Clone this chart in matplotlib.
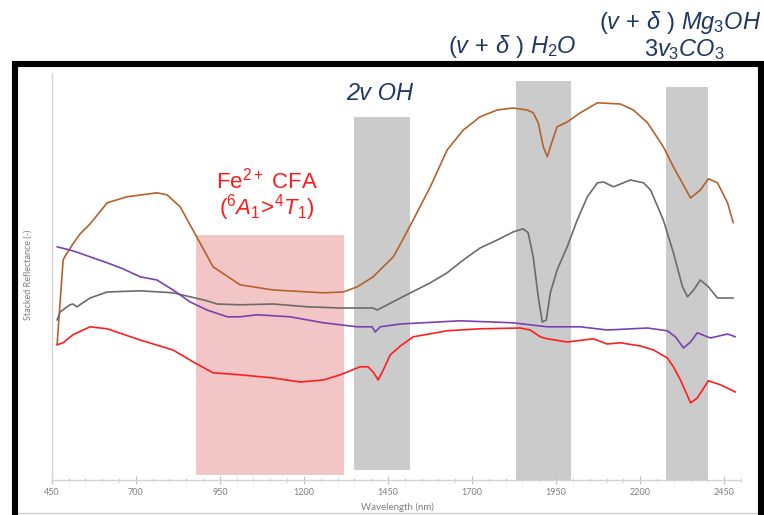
import matplotlib
matplotlib.use('Agg')
import matplotlib.pyplot as plt
from matplotlib.patches import Rectangle
from matplotlib.lines import Line2D
import matplotlib.ticker as mt

plt.rcParams['mathtext.fontset'] = 'custom'
plt.rcParams['mathtext.rm'] = 'Liberation Sans'
plt.rcParams['mathtext.it'] = 'Liberation Sans:italic'
plt.rcParams['mathtext.bf'] = 'Liberation Sans:bold'

# ---------------- data ----------------
brown_wl = [466, 484, 490, 513, 534, 564, 615, 674, 763, 793, 832, 870, 930, 1010, 1109, 1258, 1317, 1359,
            1406, 1466, 1487, 1525, 1576, 1626, 1674, 1724, 1775, 1822, 1864, 1882, 1897, 1912, 1924, 1933,
            1953, 1983, 2022, 2073, 2141, 2180, 2222, 2269, 2299, 2350, 2379, 2403, 2430, 2460, 2477]
brown_r = [0.338, 0.55, 0.56, 0.59, 0.615, 0.64, 0.693, 0.708, 0.718, 0.713, 0.683, 0.625, 0.533, 0.488,
           0.475, 0.468, 0.47, 0.483, 0.508, 0.558, 0.59, 0.65, 0.733, 0.825, 0.875, 0.908, 0.925, 0.93,
           0.925, 0.918, 0.893, 0.833, 0.808, 0.833, 0.883, 0.895, 0.918, 0.943, 0.94, 0.925, 0.893, 0.833,
           0.783, 0.705, 0.725, 0.753, 0.743, 0.693, 0.643]

gray_wl = [466, 475, 504, 513, 525, 564, 615, 713, 811, 862, 912, 942, 1010, 1109, 1210, 1308, 1406, 1418,
           1448, 1487, 1576, 1626, 1674, 1724, 1775, 1822, 1852, 1867, 1882, 1897, 1909, 1921, 1933, 1953,
           1983, 2013, 2043, 2073, 2091, 2121, 2171, 2210, 2231, 2269, 2299, 2326, 2341, 2359, 2379, 2403,
           2430, 2477]
gray_r = [0.4, 0.42, 0.438, 0.44, 0.433, 0.455, 0.47, 0.473, 0.468, 0.458, 0.448, 0.44, 0.438, 0.44, 0.433,
          0.43, 0.43, 0.425, 0.438, 0.455, 0.493, 0.518, 0.55, 0.58, 0.6, 0.62, 0.628, 0.618, 0.558, 0.458,
          0.395, 0.4, 0.468, 0.525, 0.583, 0.65, 0.708, 0.743, 0.745, 0.733, 0.75, 0.743, 0.725, 0.65, 0.568,
          0.483, 0.458, 0.475, 0.5, 0.483, 0.455, 0.455]

purple_wl = [466, 513, 564, 615, 662, 713, 763, 811, 862, 912, 972, 1010, 1061, 1159, 1258, 1359, 1403,
             1412, 1427, 1487, 1665, 1822, 1924, 2022, 2102, 2222, 2281, 2305, 2329, 2350, 2370, 2409, 2460,
             2483]
purple_r = [0.583, 0.573, 0.558, 0.543, 0.528, 0.508, 0.5, 0.475, 0.445, 0.425, 0.408, 0.408, 0.413, 0.408,
            0.393, 0.383, 0.383, 0.37, 0.383, 0.39, 0.398, 0.393, 0.383, 0.383, 0.375, 0.38, 0.373, 0.358,
            0.33, 0.345, 0.368, 0.355, 0.365, 0.358]

red_wl = [466, 484, 513, 564, 615, 713, 811, 871, 930, 1010, 1109, 1189, 1258, 1308, 1367, 1391, 1406,
          1421, 1436, 1457, 1487, 1525, 1626, 1724, 1843, 1873, 1903, 1924, 1983, 2061, 2102, 2141, 2201,
          2240, 2281, 2299, 2320, 2350, 2370, 2403, 2439, 2483]
red_r = [0.338, 0.343, 0.363, 0.383, 0.378, 0.35, 0.325, 0.295, 0.268, 0.263, 0.255, 0.245, 0.25, 0.263,
         0.283, 0.283, 0.27, 0.25, 0.275, 0.313, 0.335, 0.358, 0.373, 0.378, 0.38, 0.375, 0.358, 0.353,
         0.345, 0.353, 0.34, 0.343, 0.335, 0.325, 0.305, 0.283, 0.25, 0.193, 0.205, 0.248, 0.238, 0.22]

# absorption feature bands (wavelength range, vertical extent)
band_start = [880, 1350, 1830, 2278]
band_end = [1320, 1515, 1995, 2403]
band_bottom = [0.013, 0.025, 0.0, 0.0]
band_top = [0.6125, 0.9075, 0.9975, 0.9825]
band_color = ['#f2c5c7', '#cbcbcb', '#cbcbcb', '#cbcbcb']

x_ticks = [450, 700, 950, 1200, 1450, 1700, 1950, 2200, 2450]

# ---------------- figure ----------------
W, H = 764, 515
fig = plt.figure(figsize=(W / 100, H / 100), dpi=100)
fig.patch.set_facecolor('white')


def fx(px):
    return px / W


def fy(py):
    return 1 - py / H


ax = fig.add_axes([fx(51.7), fy(480), fx(741) - fx(51.7), fy(73) - fy(480)])

for s, e, b, t, c in zip(band_start, band_end, band_bottom, band_top, band_color):
    ax.add_patch(Rectangle((s, b), e - s, t - b, facecolor=c, edgecolor='none', zorder=1))

kw = dict(lw=1.2, zorder=3, solid_joinstyle='round', solid_capstyle='round')
ax.plot(brown_wl, brown_r, color='#b4622c', **kw)
ax.plot(gray_wl, gray_r, color='#6b6b6b', **kw)
ax.plot(purple_wl, purple_r, color='#7a42b0', **kw)
ax.plot(red_wl, red_r, color='#ff1e1e', **kw)

ax.set_xlim(450, 2500)
ax.set_ylim(0, 1.0175)
ax.set_xticks(x_ticks)
ax.xaxis.set_minor_locator(mt.MultipleLocator(50))
ax.set_yticks([])
for sp in ['top', 'right']:
    ax.spines[sp].set_visible(False)
for sp in ['left', 'bottom']:
    ax.spines[sp].set_color('#d4d4d4')
    ax.spines[sp].set_linewidth(1.0)
ax.tick_params(axis='x', which='major', direction='inout', length=6, width=0.8, color='#bfbfbf',
               labelsize=6.5, labelcolor='#7f7f7f', pad=3)
ax.tick_params(axis='x', which='minor', direction='inout', length=3, width=0.6, color='#c8c8c8')
for lab in ax.get_xticklabels():
    lab.set_fontfamily('Lato')

fig.text(fx(397), fy(507), 'Wavelength (nm)', ha='center', va='center', fontsize=7, color='#7f7f7f',
         family='Lato')
fig.text(fx(28), fy(275), 'Stacked Reflectance (-)', ha='center', va='center', rotation=90, fontsize=6.5,
         color='#7f7f7f', family='Lato')

navy = '#1f3864'
fs = 17
fig.text(fx(380), fy(93), '2v OH', ha='center', va='center', fontsize=fs, color=navy,
         family='Liberation Sans', style='italic')
fig.text(fx(512), fy(47), r'$\mathit{(v\,+\,}\delta\mathit{\ )\ H_2O}$', ha='center', va='center',
         fontsize=fs, color=navy)
fig.text(fx(680), fy(22), r'$\mathit{(v\,+\,}\delta\mathit{\ )\ Mg_3OH}$', ha='center', va='center',
         fontsize=fs, color=navy)
fig.text(fx(684), fy(50), r'$\mathit{3v_3CO_3}$', ha='center', va='center', fontsize=fs, color=navy)

fig.text(fx(267), fy(180), r'$\mathrm{Fe^{2+}\ CFA}$', ha='center', va='center', fontsize=16,
         color='#ff1a1a')
fig.text(fx(267), fy(208), r'$\mathrm{(}^{6}A_{1}\!\mathrm{>}\!^{4}T_{1}\mathrm{)}$', ha='center',
         va='center', fontsize=16, color='#ff1a1a')

# outer black frame and inner light border
frame = Rectangle((fx(15), fy(540)), fx(761) - fx(15), fy(64) - fy(540), fill=False, edgecolor='black',
                  linewidth=4.4, transform=fig.transFigure, clip_on=False, zorder=10)
fig.add_artist(frame)
fig.add_artist(Line2D([fx(18), fx(758)], [fy(513), fy(513)], color='#d0d0d0', lw=1.0,
                      transform=fig.transFigure))

fig.savefig('out.png', dpi=100, facecolor='white')
